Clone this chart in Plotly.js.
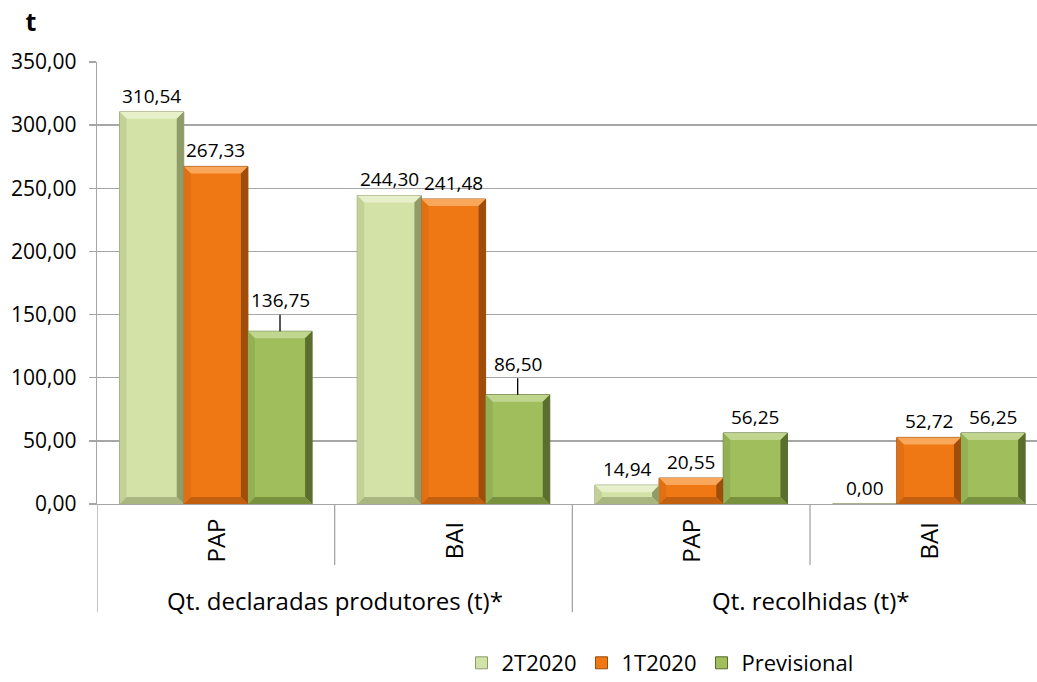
<!DOCTYPE html>
<html><head><meta charset="utf-8">
<script src="https://cdn.plot.ly/plotly-3.0.1.min.js"></script>
<style>html,body{margin:0;padding:0;background:#fff}</style>
</head><body><div id="chart" style="width:1037px;height:682px"></div>
<script>
// ---- data ----
const groupLabels = ['Qt. declaradas produtores (t)*', 'Qt. recolhidas (t)*'];
const subLabels = ['PAP', 'BAI', 'PAP', 'BAI'];
const seriesNames = ['2T2020', '1T2020', 'Previsional'];
const values2T2020 = [310.54, 244.30, 14.94, 0.00];
const values1T2020 = [267.33, 241.48, 20.55, 52.72];
const valuesPrevisional = [136.75, 86.50, 56.25, 56.25];
const yTickValues = [0, 50, 100, 150, 200, 250, 300, 350];
const yAxisUnit = 't';

// ---- style ----
const seriesValues = [values2T2020, values1T2020, valuesPrevisional];
const faceColors = ['#d3e2a6', '#f07814', '#a0bf5c'];
const edgeColors = ['#8d9a68', '#9a4c0c', '#55692c'];
const bevelColors = [
  {top: '#e7f0ca', right: '#8f9c6a', bottom: '#a9b67f', left: '#c3d197'},
  {top: '#f9a75a', right: '#9e4d0b', bottom: '#c2600f', left: '#e07014'},
  {top: '#c0d68e', right: '#5a6f2e', bottom: '#77913f', left: '#93b055'}
];
const leaderSeries = 2, leaderCats = [0, 1];
const FONT = '"Open Sans", sans-serif';
const bargap = 0.19;
const gridColor = '#a6a6a6';
const W = 1037, H = 682, M = {l: 97, r: 0, t: 62, b: 178};
const xRange = [-0.5, 3.455], yRange = [0, 350];
const bevel = 7; // px

const xs = subLabels.map((_, i) => i);
const fmt = v => v.toFixed(2).replace('.', ',');

const traces = seriesValues.map((vals, s) => ({
  type: 'bar', name: seriesNames[s], x: xs, y: vals,
  marker: {color: faceColors[s], line: {color: edgeColors[s], width: 1}},
  hoverinfo: 'skip'
}));

const nS = seriesNames.length;
const w = (1 - bargap) / nS;
const pxPerX = (W - M.l - M.r) / (xRange[1] - xRange[0]);
const pxPerY = (H - M.t - M.b) / (yRange[1] - yRange[0]);
const annotations = [];
const shapes = [];
seriesValues.forEach((vals, s) => {
  vals.forEach((v, i) => {
    const xc = i + (s - (nS - 1) / 2) * w;
    const leader = s === leaderSeries && leaderCats.includes(i);
    annotations.push({
      x: xc, y: v, xref: 'x', yref: 'y',
      text: fmt(v), showarrow: true, arrowhead: 0, ax: 0, ay: leader ? -31 : -16,
      arrowwidth: 1.3, arrowcolor: leader ? '#000' : 'rgba(0,0,0,0)', standoff: 0,
      font: {family: FONT, size: 19, color: '#000'}
    });
    if (v <= 0) return;
    const x0 = xc - w / 2, x1 = xc + w / 2;
    const dx = bevel / pxPerX, dy = Math.min(bevel / pxPerY, v / 2);
    const c = bevelColors[s];
    const poly = (pts, col) => shapes.push({
      type: 'path', xref: 'x', yref: 'y', layer: 'above',
      path: 'M' + pts.map(p => p[0] + ',' + p[1]).join('L') + 'Z',
      fillcolor: col, line: {width: 0}
    });
    poly([[x0, v], [x1, v], [x1 - dx, v - dy], [x0 + dx, v - dy]], c.top);
    poly([[x1, v], [x1, 0], [x1 - dx, dy], [x1 - dx, v - dy]], c.right);
    poly([[x0, 0], [x1, 0], [x1 - dx, dy], [x0 + dx, dy]], c.bottom);
    poly([[x0, v], [x0, 0], [x0 + dx, dy], [x0 + dx, v - dy]], c.left);
  });
});
subLabels.forEach((lab, i) => {
  annotations.push({
    x: i, y: -0.083, xref: 'x', yref: 'paper', text: lab, showarrow: false,
    textangle: -90, font: {family: FONT, size: 24, color: '#000'},
    xanchor: 'center', yanchor: 'middle'
  });
});
groupLabels.forEach((lab, g) => {
  annotations.push({
    x: g * 2 + 0.5, y: -0.218, xref: 'x', yref: 'paper', text: lab, showarrow: false,
    font: {family: FONT, size: 24, color: '#000'}, xanchor: 'center', yanchor: 'middle'
  });
});

for (let b = -0.5; b < subLabels.length; b += 1) {
  const outer = Math.round(b + 0.5) % 2 === 0;
  shapes.push({
    type: 'line', xref: 'x', yref: 'paper', x0: b, x1: b, y0: 0,
    y1: outer ? -0.245 : -0.138, line: {color: gridColor, width: 1.3}
  });
}

const layout = {
  width: W, height: H,
  margin: M,
  paper_bgcolor: '#fff', plot_bgcolor: '#fff',
  separators: ',.',
  barmode: 'group', bargap: bargap, bargroupgap: 0,
  title: {text: '<b>' + yAxisUnit + '</b>', x: 31 / W, y: 1 - 22 / H,
    xref: 'container', yref: 'container', xanchor: 'center', yanchor: 'middle',
    font: {family: FONT, size: 25, color: '#000'}},
  xaxis: {type: 'linear', range: xRange, showticklabels: false, showgrid: false,
    zeroline: false, showline: true, linecolor: gridColor, linewidth: 1.3, ticks: ''},
  yaxis: {range: yRange, tickvals: yTickValues, tickformat: '.2f', showgrid: true,
    gridcolor: gridColor, gridwidth: 1.3, zeroline: false, showline: true,
    linecolor: gridColor, linewidth: 1.3, ticks: 'outside', ticklen: 7, tickcolor: gridColor,
    tickwidth: 1.3, ticklabelstandoff: 8,
    tickfont: {family: FONT, size: 21, color: '#000'}},
  showlegend: true,
  legend: {orientation: 'h', xref: 'container', yref: 'container', x: 660 / W, y: 1 - 663 / H,
    xanchor: 'center', yanchor: 'middle', font: {family: FONT, size: 22, color: '#000'},
    itemwidth: 30, traceorder: 'normal'},
  annotations: annotations, shapes: shapes
};

Plotly.newPlot('chart', traces, layout, {displayModeBar: false, staticPlot: true});
</script></body></html>
